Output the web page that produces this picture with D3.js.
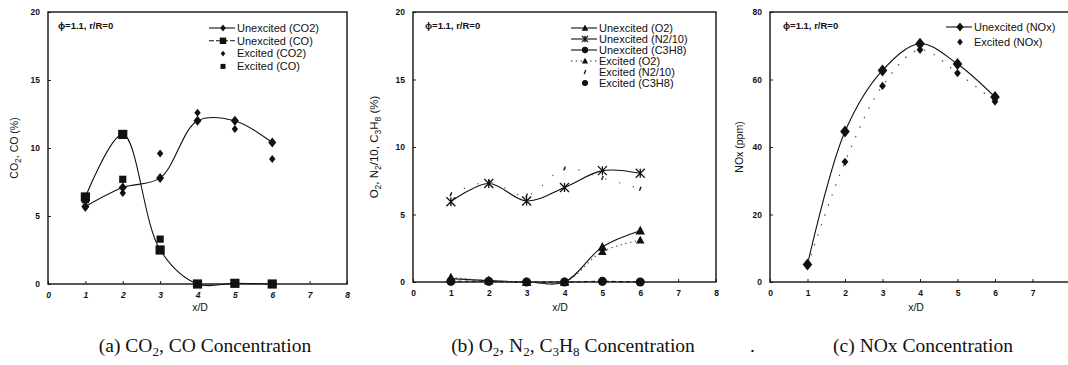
<!DOCTYPE html>
<html>
<head>
<meta charset="utf-8">
<script src="https://cdn.jsdelivr.net/npm/d3@7"></script>
<style>
body { margin: 0; background: #fff; }
svg { display: block; font-family: "Liberation Sans", Arial, sans-serif; }
.axis .tick text { font-weight: bold; font-size: 8.5px; fill: #111; }
.axis .tick line { stroke: #222; stroke-width: 1; }
.axis .domain { display: none; }
.frame { fill: none; stroke: #111; stroke-width: 1.4; }
.legend text { font-size: 11px; fill: #111; }
.note { font-size: 9.5px; font-weight: bold; fill: #111; }
.axis-label { font-size: 10.5px; fill: #111; }
.caption { font-family: "Liberation Serif", "Times New Roman", serif; font-size: 19.5px; fill: #111; }
</style>
</head>
<body>
<svg id="chart" width="1068" height="365"></svg>
<script>
// x/D stations and axis ticks
var xD = [1, 2, 3, 4, 5, 6];
var xTicks = [0, 1, 2, 3, 4, 5, 6, 7, 8];
var xTicksNox = [0, 1, 2, 3, 4, 5, 6, 7];
var pctTicks = [0, 5, 10, 15, 20];
var noxTicks = [0, 20, 40, 60, 80];

// (a) CO2, CO (%)
var co2Unexcited = [5.7, 7.1, 7.8, 12.0, 12.0, 10.4];
var coUnexcited  = [6.4, 11.0, 2.5, 0.0, 0.05, 0.0];
var co2Excited   = [5.6, 6.7, 9.6, 12.6, 11.4, 9.2];
var coExcited    = [6.2, 7.7, 3.3, 0.0, 0.05, 0.0];

// (b) O2, N2/10, C3H8 (%)
var o2Unexcited   = [0.25, 0.1, 0.0, 0.0, 2.6, 3.8];
var n2Unexcited   = [5.95, 7.3, 6.0, 7.0, 8.25, 8.05];
var c3h8Unexcited = [0.05, 0.05, 0.0, 0.0, 0.05, 0.0];
var o2Excited     = [0.35, 0.1, 0.0, 0.0, 2.25, 3.1];
var n2Excited     = [6.5, 7.4, 6.4, 8.4, 7.7, 6.9];
var c3h8Excited   = [0.0, 0.0, 0.0, 0.0, 0.0, 0.0];

// (c) NOx (ppm)
var noxUnexcited = [5.2, 44.6, 62.7, 70.6, 64.6, 54.8];
var noxExcited   = [5.0, 35.6, 58.1, 68.8, 61.9, 53.5];

var svg = d3.select('#chart');

function markerPath(type, s) {
  if (type === 'diamond') {
    return 'M0,' + (-s) + 'L' + (s * 0.8) + ',0L0,' + s + 'L' + (-s * 0.8) + ',0Z';
  }
  if (type === 'square') {
    return 'M' + (-s) + ',' + (-s) + 'h' + (2 * s) + 'v' + (2 * s) + 'h' + (-2 * s) + 'Z';
  }
  if (type === 'triangle') {
    return 'M0,' + (-s) + 'L' + (s * 0.95) + ',' + (s * 0.75) + 'L' + (-s * 0.95) + ',' + (s * 0.75) + 'Z';
  }
  if (type === 'circle') {
    return 'M' + s + ',0A' + s + ',' + s + ' 0 1,1 ' + (-s) + ',0A' + s + ',' + s + ' 0 1,1 ' + s + ',0Z';
  }
  if (type === 'cross') {
    return 'M' + (-s) + ',' + (-s) + 'L' + s + ',' + s + 'M' + s + ',' + (-s) + 'L' + (-s) + ',' + s + 'M0,' + (-s) + 'L0,' + s;
  }
  if (type === 'tick') {
    return 'M' + (-0.8) + ',' + (s) + 'L' + 0.8 + ',' + (-s);
  }
  return '';
}

function drawMarker(g, type, s, cx, cy) {
  var p = g.append('path')
    .attr('d', markerPath(type, s))
    .attr('transform', 'translate(' + cx + ',' + cy + ')');
  if (type === 'cross' || type === 'tick') {
    p.style('fill', 'none').style('stroke', '#111').style('stroke-width', 1.3);
  } else {
    p.style('fill', '#111').style('stroke', 'none');
  }
}

var dashes = { solid: null, legendDash: '5,2', dot: '1.3,3.5', sparse: '1.5,9', faint: '1.2,13', dashdot: '4,3' };

// text with subscripts; shifts in px so they cancel out exactly
function addRich(text, parts, subSize, shift) {
  var shifted = false;
  parts.forEach(function(p) {
    if (typeof p === 'string') {
      text.append('tspan').attr('dy', shifted ? -shift : null).text(p);
      shifted = false;
    } else {
      text.append('tspan').attr('dy', shifted ? null : shift).style('font-size', subSize).text(p.sub);
      shifted = true;
    }
  });
}

function drawPanel(cfg) {
  var x = d3.scaleLinear().domain([0, 8]).range([cfg.left, cfg.right]);
  var y = d3.scaleLinear().domain([0, cfg.yMax]).range([cfg.bottom, cfg.top]);
  var g = svg.append('g');

  g.append('g')
    .attr('class', 'axis x')
    .attr('transform', 'translate(0,' + cfg.bottom + ')')
    .call(d3.axisBottom(x).tickValues(cfg.xTicks).tickSize(-3).tickPadding(8).tickFormat(d3.format('d')))
    .selectAll('text').style('font-style', cfg.italicTicks ? 'italic' : 'normal');

  g.append('g')
    .attr('class', 'axis y')
    .attr('transform', 'translate(' + cfg.left + ',0)')
    .call(d3.axisLeft(y).tickValues(cfg.yTicks).tickSize(-3).tickPadding(8));

  g.append('rect')
    .attr('class', 'frame')
    .attr('x', cfg.left)
    .attr('y', cfg.top)
    .attr('width', cfg.right - cfg.left)
    .attr('height', cfg.bottom - cfg.top);

  var line = d3.line()
    .x(function(d) { return x(d[0]); })
    .y(function(d) { return y(d[1]); })
    .curve(d3.curveCatmullRom.alpha(0.5));

  cfg.series.forEach(function(s) {
    var pts = xD.map(function(v, i) { return [v, s.values[i]]; });
    if (s.line) {
      g.append('path')
        .attr('d', line(pts))
        .style('fill', 'none')
        .style('stroke', s.excited ? '#555' : '#111')
        .style('stroke-width', s.excited ? 1.2 : 1.1)
        .style('stroke-dasharray', dashes[s.line]);
    }
  });
  cfg.series.forEach(function(s) {
    xD.forEach(function(v, i) {
      drawMarker(g, s.marker, s.size, x(v), y(s.values[i]));
    });
  });

  // legend
  var lg = g.append('g').attr('class', 'legend');
  cfg.series.forEach(function(s, i) {
    var ly = cfg.legend.y + i * cfg.legend.step;
    var lx = cfg.legend.x;
    if (s.legendLine) {
      lg.append('line')
        .attr('x1', lx - 14).attr('x2', lx + 12)
        .attr('y1', ly).attr('y2', ly)
        .style('stroke', '#111')
        .style('stroke-width', 1.1)
        .style('stroke-dasharray', dashes[s.legendLine]);
    }
    drawMarker(lg, s.marker, s.legendSize || s.size * 0.7, lx, ly);
    lg.append('text')
      .attr('x', lx + 14)
      .attr('y', ly)
      .attr('dy', '0.35em')
      .text(s.label);
  });

  g.append('text')
    .attr('class', 'note')
    .attr('x', cfg.left + cfg.noteDx)
    .attr('y', cfg.top + 17)
    .text('\u03d5=1.1, r/R=0');

  var yl = g.append('text')
    .attr('class', 'axis-label')
    .attr('transform', 'translate(' + cfg.yLabelX + ',' + ((cfg.top + cfg.bottom) / 2) + ') rotate(-90)')
    .style('text-anchor', 'middle')
    .style('font-size', cfg.yLabelSize);
  addRich(yl, cfg.yLabel, '8.5px', 3);

  g.append('text')
    .attr('class', 'axis-label')
    .attr('x', cfg.xLabelX)
    .attr('y', 311)
    .style('text-anchor', 'middle')
    .text('x/D');

  var cap = g.append('text')
    .attr('class', 'caption')
    .attr('x', cfg.captionX)
    .attr('y', 352)
    .style('text-anchor', 'middle');
  addRich(cap, cfg.caption, '13px', 4);
}

drawPanel({
  left: 48, right: 347, top: 12, bottom: 284, yMax: 20, yTicks: pctTicks, xTicks: xTicks,
  italicTicks: true, noteDx: 10, yLabelX: 18, yLabelSize: '10.5px', xLabelX: 200, captionX: 205,
  yLabel: ['CO', {sub: '2'}, ', CO (%)'],
  caption: ['(a)  CO', {sub: '2'}, ', CO Concentration'],
  legend: {x: 223, y: 28, step: 12.8},
  series: [
    {values: co2Unexcited, marker: 'diamond', size: 5, line: 'solid', legendLine: 'solid', label: 'Unexcited (CO2)'},
    {values: coUnexcited, marker: 'square', size: 4.6, line: 'solid', legendLine: 'legendDash', label: 'Unexcited (CO)'},
    {values: co2Excited, marker: 'diamond', size: 4, excited: true, label: 'Excited (CO2)'},
    {values: coExcited, marker: 'square', size: 3.6, excited: true, label: 'Excited (CO)'}
  ]
});

drawPanel({
  left: 413, right: 716, top: 12, bottom: 282, yMax: 20, yTicks: pctTicks, xTicks: xTicks,
  italicTicks: false, noteDx: 12, yLabelX: 378, yLabelSize: '11.5px', xLabelX: 560, captionX: 573,
  yLabel: ['O', {sub: '2'}, ', N', {sub: '2'}, '/10, C', {sub: '3'}, 'H', {sub: '8'}, ' (%)'],
  caption: ['(b)  O', {sub: '2'}, ', N', {sub: '2'}, ', C', {sub: '3'}, 'H', {sub: '8'}, ' Concentration'],
  legend: {x: 585, y: 28, step: 11},
  series: [
    {values: o2Unexcited, marker: 'triangle', size: 5, line: 'solid', legendLine: 'solid', label: 'Unexcited (O2)'},
    {values: n2Unexcited, marker: 'cross', size: 4.5, line: 'solid', legendLine: 'solid', label: 'Unexcited (N2/10)'},
    {values: c3h8Unexcited, marker: 'circle', size: 4.5, line: 'dashdot', legendLine: 'solid', label: 'Unexcited (C3H8)'},
    {values: o2Excited, marker: 'triangle', size: 4.5, line: 'dot', legendLine: 'dot', excited: true, legendSize: 3.3, label: 'Excited (O2)'},
    {values: n2Excited, marker: 'tick', size: 2, line: 'faint', excited: true, legendSize: 2, label: 'Excited (N2/10)'},
    {values: c3h8Excited, marker: 'circle', size: 3.5, excited: true, legendSize: 3, label: 'Excited (C3H8)'}
  ]
});

drawPanel({
  left: 770, right: 1070, top: 12, bottom: 282, yMax: 80, yTicks: noxTicks, xTicks: xTicksNox,
  italicTicks: false, noteDx: 13, yLabelX: 743, yLabelSize: '10.5px', xLabelX: 916, captionX: 923,
  yLabel: ['NOx (ppm)'],
  caption: ['(c)  NOx Concentration'],
  legend: {x: 960, y: 27, step: 15},
  series: [
    {values: noxUnexcited, marker: 'diamond', size: 6, line: 'solid', legendLine: 'solid', legendSize: 4.5, label: 'Unexcited (NOx)'},
    {values: noxExcited, marker: 'diamond', size: 4.2, line: 'sparse', excited: true, legendSize: 3.5, label: 'Excited (NOx)'}
  ]
});

svg.append('text')
  .attr('class', 'caption')
  .attr('x', 750)
  .attr('y', 352)
  .text('.');
</script>
</body>
</html>
